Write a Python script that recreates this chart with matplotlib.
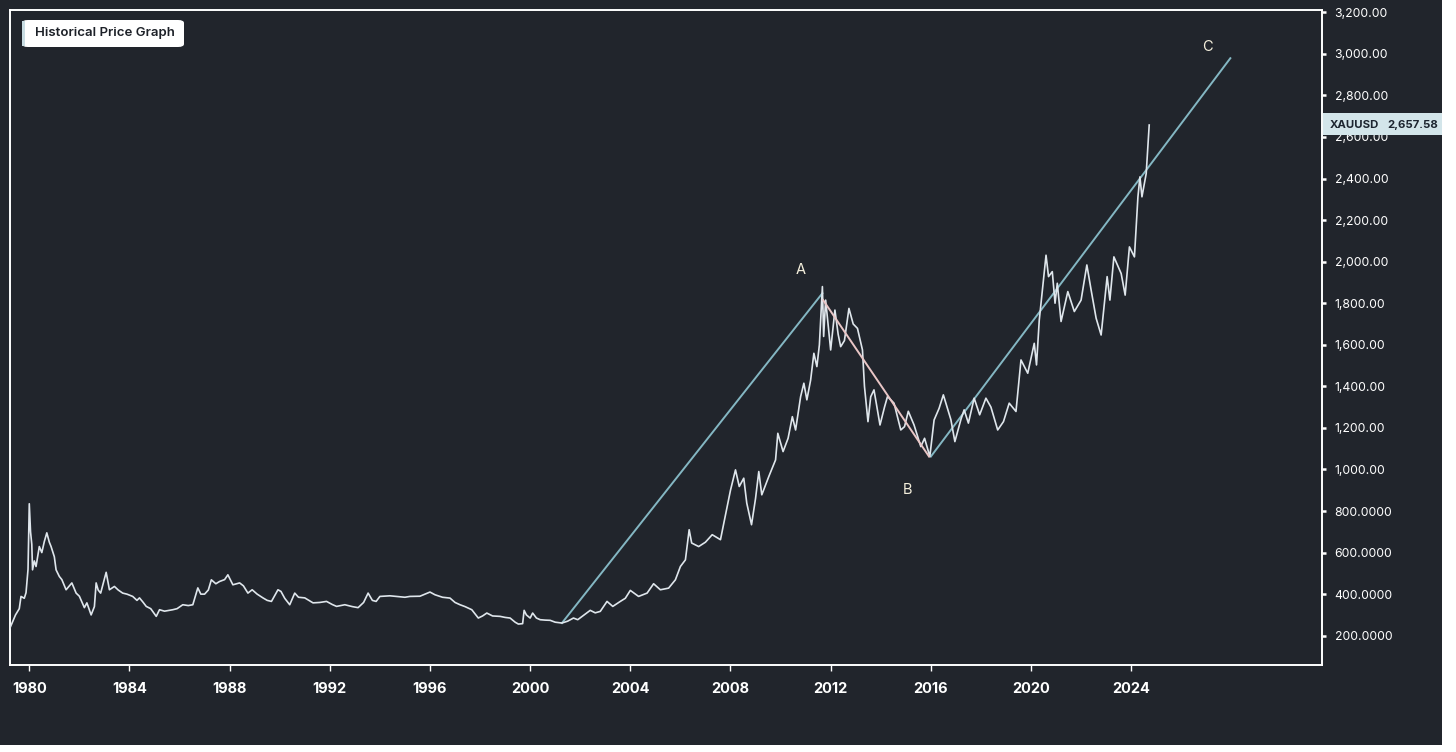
import matplotlib
matplotlib.use("Agg")
import matplotlib.pyplot as plt
from matplotlib.patches import FancyBboxPatch, Rectangle
from matplotlib.ticker import FuncFormatter, MultipleLocator

plt.rcParams['font.family'] = ['Inter', 'DejaVu Sans']

# gold price (XAUUSD)
years = [1979.20, 1979.45, 1979.60, 1979.67, 1979.80, 1979.87, 1979.95, 1980.00, 1980.05, 1980.10,
         1980.13, 1980.20, 1980.27, 1980.40, 1980.50, 1980.60, 1980.70, 1980.80, 1980.87, 1981.00,
         1981.07, 1981.20, 1981.30, 1981.47, 1981.60, 1981.70, 1981.87, 1982.00, 1982.20, 1982.30,
         1982.47, 1982.60, 1982.67, 1982.75, 1982.85, 1983.07, 1983.20, 1983.40, 1983.55, 1983.73,
         1983.90, 1984.13, 1984.30, 1984.40, 1984.55, 1984.67, 1984.85, 1985.07, 1985.20, 1985.40,
         1985.73, 1985.90, 1986.13, 1986.35, 1986.53, 1986.73, 1986.85, 1987.00, 1987.15, 1987.27,
         1987.45, 1987.60, 1987.80, 1987.93, 1988.13, 1988.40, 1988.55, 1988.73, 1988.90, 1989.10,
         1989.33, 1989.50, 1989.67, 1989.93, 1990.05, 1990.20, 1990.40, 1990.60, 1990.75, 1991.00,
         1991.33, 1991.60, 1991.87, 1992.10, 1992.27, 1992.60, 1992.90, 1993.13, 1993.35, 1993.53,
         1993.70, 1993.85, 1994.00, 1994.40, 1994.67, 1995.00, 1995.20, 1995.60, 1996.00, 1996.20,
         1996.50, 1996.80, 1997.00, 1997.20, 1997.40, 1997.67, 1997.93, 1998.10, 1998.27, 1998.50,
         1998.80, 1999.00, 1999.20, 1999.40, 1999.53, 1999.70, 1999.76, 1999.85, 2000.00, 2000.10,
         2000.25, 2000.40, 2000.60, 2000.80, 2001.00, 2001.27, 2001.50, 2001.73, 2001.90, 2002.10,
         2002.40, 2002.60, 2002.80, 2003.07, 2003.30, 2003.60, 2003.80, 2004.00, 2004.33, 2004.67,
         2004.93, 2005.20, 2005.53, 2005.80, 2006.00, 2006.20, 2006.35, 2006.45, 2006.73, 2007.00,
         2007.27, 2007.60, 2007.87, 2008.00, 2008.20, 2008.35, 2008.53, 2008.65, 2008.84, 2009.00,
         2009.13, 2009.25, 2009.53, 2009.80, 2009.89, 2010.10, 2010.30, 2010.47, 2010.60, 2010.80,
         2010.93, 2011.05, 2011.20, 2011.33, 2011.45, 2011.55, 2011.67, 2011.72, 2011.80, 2012.00,
         2012.17, 2012.30, 2012.40, 2012.55, 2012.73, 2012.90, 2013.07, 2013.27, 2013.35, 2013.49,
         2013.60, 2013.73, 2013.97, 2014.15, 2014.27, 2014.53, 2014.80, 2014.95, 2015.10, 2015.33,
         2015.60, 2015.75, 2015.96, 2016.13, 2016.33, 2016.50, 2016.60, 2016.80, 2016.96, 2017.20,
         2017.33, 2017.50, 2017.73, 2017.95, 2018.20, 2018.40, 2018.67, 2018.90, 2019.13, 2019.40,
         2019.60, 2019.87, 2020.13, 2020.22, 2020.33, 2020.60, 2020.70, 2020.85, 2020.96, 2021.05,
         2021.20, 2021.47, 2021.73, 2022.00, 2022.23, 2022.40, 2022.60, 2022.80, 2023.04, 2023.15,
         2023.31, 2023.60, 2023.76, 2023.93, 2024.13, 2024.27, 2024.35, 2024.43, 2024.60, 2024.65,
         2024.72]
prices = [229, 300, 330, 389, 380, 407, 520, 835, 700, 640,
          517, 560, 533, 629, 600, 653, 695, 650, 629, 580,
          517, 485, 470, 421, 440, 454, 405, 390, 335, 358,
          300, 340, 454, 420, 405, 505, 421, 437, 420, 405,
          400, 389, 370, 382, 360, 341, 330, 293, 325, 318,
          325, 330, 349, 345, 349, 430, 400, 400, 420, 469,
          450, 461, 470, 493, 445, 454, 440, 405, 421, 400,
          382, 370, 365, 421, 413, 380, 349, 405, 385, 382,
          358, 360, 365, 350, 341, 349, 340, 335, 360, 405,
          370, 365, 389, 392, 389, 385, 389, 390, 410, 397,
          385, 381, 360, 349, 340, 325, 285, 295, 309, 295,
          293, 288, 285, 265, 256, 258, 322, 300, 285, 309,
          285, 277, 275, 274, 265, 261, 270, 285, 277, 295,
          322, 310, 317, 365, 341, 365, 380, 418, 389, 405,
          450, 421, 429, 469, 533, 565, 710, 646, 629, 650,
          686, 662, 822, 900, 998, 918, 958, 838, 734, 860,
          990, 878, 966, 1046, 1174, 1086, 1150, 1254, 1190, 1350,
          1415, 1335, 1430, 1559, 1495, 1600, 1880, 1640, 1815, 1575,
          1767, 1650, 1591, 1620, 1775, 1700, 1679, 1575, 1400, 1230,
          1350, 1383, 1214, 1300, 1351, 1319, 1190, 1206, 1280, 1214,
          1110, 1150, 1062, 1238, 1294, 1359, 1319, 1240, 1134, 1240,
          1287, 1223, 1343, 1263, 1343, 1300, 1190, 1230, 1319, 1279,
          1527, 1463, 1607, 1503, 1719, 2031, 1928, 1952, 1800, 1896,
          1712, 1856, 1760, 1815, 1984, 1864, 1728, 1647, 1928, 1815,
          2023, 1943, 1839, 2071, 2023, 2312, 2408, 2312, 2424, 2520,
          2657.58]

# wave lines drawn on the chart
wave_up1_x = [2001.27, 2011.67]
wave_up1_y = [261, 1848]
wave_down_x = [2011.70, 2015.93]
wave_down_y = [1815, 1062]
wave_up2_x = [2016.00, 2027.96]
wave_up2_y = [1062, 2979]

wave_labels = ["A", "B", "C"]
wave_label_x = [2010.8, 2015.05, 2027.05]
wave_label_y = [1960, 902, 3032]

last_price = prices[-1]

W, H = 1456, 752
bg = "#21252c"

fig = plt.figure(figsize=(W / 100, H / 100), dpi=100, facecolor="white")
fig.patches.append(Rectangle((0, 7 / H), 1442 / W, 1 - 7 / H, transform=fig.transFigure,
                             facecolor=bg, edgecolor="none", zorder=-10))

ax = fig.add_axes([10 / W, 1 - 665 / H, 1312 / W, 655 / H])
ax.set_facecolor(bg)

ax.plot(years, prices, color="#dfe6ec", lw=1.2, zorder=3)
ax.plot(wave_up1_x, wave_up1_y, color="#84b7c3", lw=1.4, zorder=2)
ax.plot(wave_down_x, wave_down_y, color="#e9c6c6", lw=1.4, zorder=4)
ax.plot(wave_up2_x, wave_up2_y, color="#84b7c3", lw=1.4, zorder=2)

for lab, lx, ly in zip(wave_labels, wave_label_x, wave_label_y):
    ax.text(lx, ly, lab, color="#f4efdc", fontsize=10.5, ha="center", va="center")

ax.set_xlim(1979.23, 2031.62)
ax.set_ylim(59, 3211)

ax.set_xticks(range(1980, 2025, 4))
ax.set_yticks(range(200, 3201, 200))
ax.yaxis.set_major_formatter(FuncFormatter(lambda v, p: f"{v:,.2f}" if v >= 1000 else f"{v:.4f}"))

ax.yaxis.tick_right()
ax.tick_params(axis="y", colors="white", labelcolor="white", length=3, width=1.8,
               labelsize=8.8, pad=6)
ax.tick_params(axis="x", colors="white", labelcolor="white", length=4, width=1,
               labelsize=10.5, pad=8)
for t in ax.get_xticklabels():
    t.set_fontweight("bold")

for s in ax.spines.values():
    s.set_color("white")
    s.set_linewidth(1.4)

# title badge
fig.patches.append(FancyBboxPatch((22 / W, 1 - 47 / H), 162 / W, 27 / H,
                                  boxstyle="round,pad=0,rounding_size=0.004",
                                  transform=fig.transFigure, facecolor="white",
                                  edgecolor="none", zorder=5))
fig.patches.append(Rectangle((22 / W, 1 - 46 / H), 3 / W, 25 / H, transform=fig.transFigure,
                             facecolor="#c9dde3", edgecolor="none", zorder=6))
fig.text(105 / W, 1 - 33 / H, "Historical Price Graph", color="#1d2128", fontsize=9.5,
         fontweight="semibold", ha="center", va="center", zorder=7)

# last price badge
fig.patches.append(Rectangle((1323 / W, 1 - 135 / H), 119 / W, 22 / H, transform=fig.transFigure,
                             facecolor="#d3e5ea", edgecolor="none", zorder=5))
fig.text(1330 / W, 1 - 124.5 / H, "XAUUSD", color="#1d2530", fontsize=8.2,
         fontweight="bold", ha="left", va="center", zorder=7)
fig.text(1438 / W, 1 - 124.5 / H, f"{last_price:,.2f}", color="#1d2530", fontsize=8.2,
         fontweight="bold", ha="right", va="center", zorder=7)

fig.savefig("out.png", dpi=100, facecolor=fig.get_facecolor())
